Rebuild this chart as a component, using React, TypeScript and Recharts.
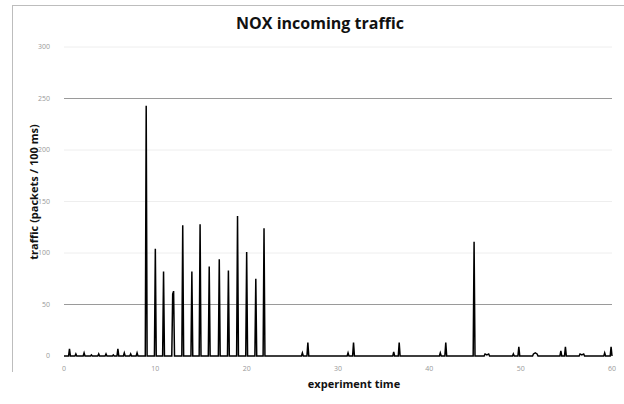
import React from "react";
import { LineChart, Line, XAxis, YAxis, CartesianGrid, ReferenceLine } from "recharts";

// experiment time (s) and incoming traffic (packets / 100 ms)
const times: number[] = [
  0, 0.5, 0.6, 0.7, 1.2, 1.3, 1.4, 2.1, 2.2, 2.3, 2.9, 3.0, 3.1, 3.7, 3.8, 3.9,
  4.5, 4.6, 4.7, 5.3, 5.4, 5.5, 5.8, 5.9, 6.0, 6.5, 6.6, 6.7, 7.2, 7.3, 7.4,
  7.9, 8.0, 8.1, 8.9, 9.0, 9.1, 9.9, 10.0, 10.1, 10.8, 10.9, 11.0,
  11.8, 11.9, 12.0, 12.1, 12.9, 13.0, 13.1, 13.9, 14.0, 14.1, 14.8, 14.9, 15.0,
  15.8, 15.9, 16.0, 16.9, 17.0, 17.1, 17.9, 18.0, 18.1, 18.9, 19.0, 19.1,
  19.9, 20.0, 20.1, 20.9, 21.0, 21.1, 21.8, 21.9, 22.0,
  26.0, 26.1, 26.2, 26.6, 26.7, 26.8,
  31.0, 31.1, 31.2, 31.6, 31.7, 31.8,
  36.0, 36.1, 36.2, 36.6, 36.7, 36.8,
  41.1, 41.2, 41.3, 41.7, 41.8, 41.9,
  44.8, 44.9, 45.0,
  46.0, 46.1, 46.3, 46.5, 46.6,
  49.1, 49.2, 49.3, 49.7, 49.8, 49.9,
  51.3, 51.4, 51.6, 51.8, 51.9,
  54.3, 54.4, 54.5, 54.8, 54.9, 55.0,
  56.4, 56.5, 56.7, 56.9, 57.0,
  59.1, 59.2, 59.3, 59.8, 59.9, 60.0,
];

const traffic: number[] = [
  0, 0, 7, 0, 0, 2, 0, 0, 3, 0, 0, 1, 0, 0, 2, 0,
  0, 2, 0, 0, 1, 0, 0, 7, 0, 0, 3, 0, 0, 2, 0,
  0, 3, 0, 0, 243, 0, 0, 104, 0, 0, 82, 0,
  0, 60, 63, 0, 0, 127, 0, 0, 82, 0, 0, 128, 0,
  0, 87, 0, 0, 94, 0, 0, 83, 0, 0, 136, 0,
  0, 101, 0, 0, 75, 0, 0, 124, 0,
  0, 3, 0, 0, 13, 0,
  0, 3, 0, 0, 13, 0,
  0, 4, 0, 0, 13, 0,
  0, 3, 0, 0, 13, 0,
  0, 111, 0,
  0, 2, 1, 2, 0,
  0, 2, 0, 0, 9, 0,
  0, 2, 3, 2, 0,
  0, 5, 0, 0, 9, 0,
  0, 2, 1, 2, 0,
  0, 3, 0, 0, 9, 0,
];

const xTicks: number[] = [0, 10, 20, 30, 40, 50, 60];
const yTicks: number[] = [0, 50, 100, 150, 200, 250, 300];
const strongGrid: number[] = [50, 250];

const data = times.map((t, i) => ({ t, v: traffic[i] }));

const labelFont = "'Open Sans', 'Liberation Sans', sans-serif";

export default function App() {
  return (
    <div style={{ position: "absolute", left: 0, top: 0, width: 624, height: 404, background: "#fff" }}>
      <div style={{ position: "absolute", left: 12, top: 5, width: 640, height: 366, borderLeft: "1px solid #bdbdbd", borderTop: "1px solid #bdbdbd" }} />
      <div style={{ position: "absolute", left: 0, top: 12, width: 640, textAlign: "center", fontFamily: labelFont, fontWeight: 700, fontSize: 16, color: "#111" }}>
        NOX incoming traffic
      </div>
      <LineChart
        width={624}
        height={404}
        data={data}
        margin={{ top: 47, right: 12, bottom: 28, left: 4 }}
        style={{ position: "absolute", left: 0, top: 0 }}
      >
        <CartesianGrid vertical={false} stroke="#eeeeee" horizontalValues={yTicks} />
        {strongGrid.map((g) => (
          <ReferenceLine key={g} y={g} stroke="#9a9a9a" strokeWidth={1} />
        ))}
        <XAxis
          dataKey="t"
          type="number"
          domain={[0, 60]}
          ticks={xTicks}
          axisLine={false}
          tickLine={false}
          tickSize={0}
          tickMargin={10}
          height={20}
          tick={{ fontSize: 7, fill: "#999", fontFamily: labelFont }}
          interval={0}
        />
        <YAxis
          type="number"
          domain={[0, 300]}
          ticks={yTicks}
          axisLine={false}
          tickLine={false}
          tickSize={0}
          tickMargin={14}
          width={60}
          tick={{ fontSize: 7, fill: "#999", fontFamily: labelFont }}
          interval={0}
        />
        <Line
          type="linear"
          dataKey="v"
          stroke="#000"
          strokeWidth={1.5}
          dot={false}
          isAnimationActive={false}
        />
      </LineChart>
      <div style={{ position: "absolute", left: 33, top: 192, width: 0, height: 0 }}>
        <div style={{ position: "absolute", left: 0, top: 0, transform: "translate(-50%, -50%) rotate(-90deg)", whiteSpace: "nowrap", fontFamily: labelFont, fontWeight: 700, fontSize: 11, color: "#111" }}>
          traffic (packets / 100 ms)
        </div>
      </div>
      <div style={{ position: "absolute", left: 354, top: 383, width: 0, height: 0 }}>
        <div style={{ position: "absolute", left: 0, top: 0, transform: "translate(-50%, -50%)", whiteSpace: "nowrap", fontFamily: labelFont, fontWeight: 700, fontSize: 11, color: "#111" }}>
          experiment time
        </div>
      </div>
    </div>
  );
}
